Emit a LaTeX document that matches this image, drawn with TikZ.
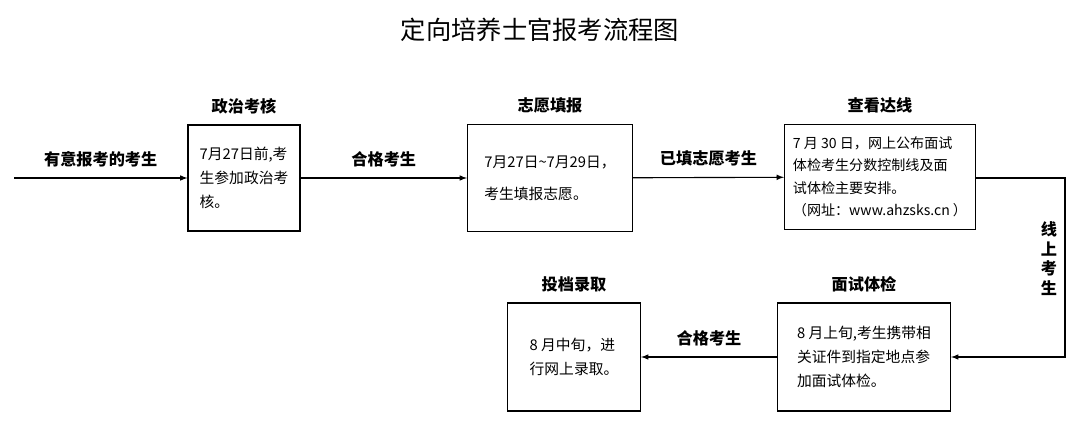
\documentclass[tikz,border=0pt]{standalone}
\usepackage{fontspec}
\setmainfont{Noto Sans CJK SC}
\XeTeXlinebreaklocale "zh"
\XeTeXlinebreakskip=0pt plus 1pt
\usetikzlibrary{arrows,positioning}
\begin{document}
\begin{tikzpicture}[
    x=0.025cm, y=-0.025cm,
    box/.style={draw, thick, rectangle, align=left, font=\fontsize{10.5}{17}\selectfont, inner sep=4pt},
    head/.style={font=\bfseries\fontsize{11.5}{14}\selectfont},
    lab/.style={font=\bfseries\fontsize{11.5}{14}\selectfont},
    arrow/.style={->, >=latex, thick}
]
\useasboundingbox (0,0) rectangle (1080,426);

% Title
\node[font=\fontsize{18}{20}\selectfont] (title) at (540,30) {定向培养士官报考流程图};

% Boxes
\node[box, minimum width=112*0.025cm, minimum height=106*0.025cm] (zhengshen) at (244,178) {7月27日前,考\\生参加政治考\\核。};
\node[box, minimum width=165*0.025cm, minimum height=107*0.025cm] (zhiyuan) at (550,178) {7月27日\textasciitilde 7月29日，\\[6pt]考生填报志愿。};
\node[box, minimum width=191*0.025cm, minimum height=105*0.025cm, font=\fontsize{10}{16}\selectfont] (daxian) at (880,177) {7 月 30 日，网上公布面试\\体检考生分数控制线及面\\试体检主要安排。\\（网址：www.ahzsks.cn ）};
\node[box, minimum width=173*0.025cm, minimum height=108*0.025cm] (tijian) at (864,357) {8 月上旬,考生携带相\\关证件到指定地点参\\加面试体检。};
\node[box, minimum width=133*0.025cm, minimum height=108*0.025cm] (luqu) at (574,357) {8 月中旬，进\\行网上录取。};

% Headers
\node[head, above=4pt of zhengshen] (h1) {政治考核};
\node[head, above=4pt of zhiyuan] (h2) {志愿填报};
\node[head, above=4pt of daxian] (h3) {查看达线};
\node[head, above=4pt of tijian] (h4) {面试体检};
\node[head, above=4pt of luqu] (h5) {投档录取};

% Connectors
\coordinate (start) at (14,178);
\coordinate (turn1) at (1065,178);
\coordinate (turn2) at (1065,357);
\draw[arrow] (start) -- node[lab, above=4pt] {有意报考的考生} (zhengshen);
\draw[arrow] (zhengshen) -- node[lab, above=4pt] {合格考生} (zhiyuan);
\draw[arrow] (zhiyuan) -- node[lab, above=4pt] {已填志愿考生} (daxian);
\draw[arrow] (daxian.east |- turn1) -- (turn1) -- node[lab, left=2pt, align=center, pos=0.45] {线\\上\\考\\生} (turn2) -- (tijian.east |- turn2);
\draw[arrow] (tijian) -- node[lab, above=4pt] {合格考生} (luqu);
\end{tikzpicture}
\end{document}
